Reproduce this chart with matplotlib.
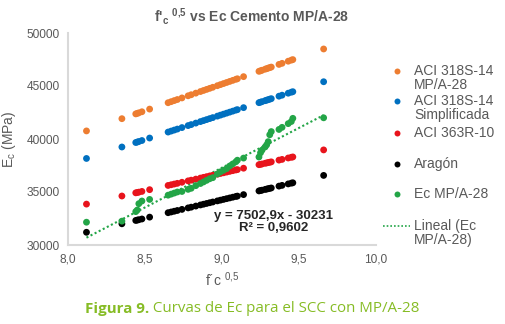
import matplotlib
matplotlib.use("Agg")
import matplotlib.pyplot as plt
from matplotlib.lines import Line2D

plt.rcParams['font.family'] = ['Liberation Sans', 'DejaVu Sans']
plt.rcParams['mathtext.fontset'] = 'custom'
plt.rcParams['mathtext.rm'] = 'Liberation Sans'
plt.rcParams['mathtext.bf'] = 'Liberation Sans:bold'

# ---- data ----
fc_sqrt = [8.12, 8.35, 8.44, 8.45, 8.46, 8.48, 8.53,
           8.65, 8.67, 8.69, 8.71, 8.74, 8.78, 8.80, 8.83, 8.86, 8.88, 8.90,
           8.92, 8.94, 8.97, 8.99, 9.01, 9.03, 9.05, 9.07, 9.09, 9.10,
           9.14, 9.24, 9.25, 9.26, 9.28, 9.29, 9.30, 9.31, 9.32,
           9.37, 9.39, 9.43, 9.45, 9.46, 9.66]

aci318_full = [40762, 41917, 42369, 42419, 42469, 42570, 42821,
               43423, 43523, 43624, 43724, 43875, 44076, 44176, 44327, 44477, 44578, 44678,
               44778, 44879, 45029, 45130, 45230, 45331, 45431, 45531, 45632, 45682,
               45883, 46385, 46435, 46485, 46586, 46636, 46686, 46736, 46786,
               47037, 47138, 47339, 47439, 47489, 48493]

aci318_simpl = [38164, 39245, 39668, 39715, 39762, 39856, 40091,
                40655, 40749, 40843, 40937, 41078, 41266, 41360, 41501, 41642, 41736, 41830,
                41924, 42018, 42159, 42253, 42347, 42441, 42535, 42629, 42723, 42770,
                42958, 43428, 43475, 43522, 43616, 43663, 43710, 43757, 43804,
                44039, 44133, 44321, 44415, 44462, 45402]

aci363 = [33858, 34622, 34921, 34954, 34987, 35054, 35220,
          35618, 35684, 35751, 35817, 35917, 36050, 36116, 36216, 36315, 36382, 36448,
          36514, 36581, 36680, 36747, 36813, 36880, 36946, 37012, 37079, 37112,
          37245, 37577, 37610, 37643, 37710, 37743, 37776, 37809, 37842,
          38008, 38075, 38208, 38274, 38307, 38971]

aragon = [31200, 32001, 32315, 32350, 32385, 32454, 32629,
          33047, 33116, 33186, 33256, 33360, 33500, 33569, 33674, 33778, 33848, 33918,
          33987, 34057, 34161, 34231, 34301, 34371, 34440, 34510, 34580, 34614,
          34754, 35102, 35137, 35172, 35242, 35276, 35311, 35346, 35381,
          35555, 35625, 35764, 35834, 35869, 36565]

ec_mpa28 = [32150, 32250, 33150, 33300, 33900, 34150, 34300,
            34700, 34800, 34900, 35000, 35050, 35250, 35350, 35600, 35800, 35950, 36100,
            36250, 36350, 36700, 36900, 37050, 37200, 37450, 37650, 37850, 38000,
            38200, 38300, 38700, 38950, 39250, 39450, 39750, 40400, 40700,
            40900, 41100, 41450, 41650, 41950, 42000]

trend_slope = 7502.9
trend_intercept = -30231

series_labels = ["ACI 318S-14\nMP/A-28", "ACI 318S-14\nSimplificada", "ACI 363R-10",
                 "Aragón", "Ec MP/A-28"]
trend_label = "Lineal (Ec\nMP/A-28)"
x_ticks = [8.0, 8.5, 9.0, 9.5, 10.0]
x_tick_labels = ["8,0", "8,5", "9,0", "9,5", "10,0"]
y_ticks = [30000, 35000, 40000, 45000, 50000]
y_tick_labels = ["30000", "35000", "40000", "45000", "50000"]

colors = ["#ED7D31", "#0070C0", "#E8141C", "#000000", "#23A547"]
gray = "#595959"
cap_color = "#86BC25"

W, H = 505, 324
fig = plt.figure(figsize=(W / 100, H / 100), dpi=100)
ax = fig.add_axes([68 / W, 1 - 245 / H, (376 - 68) / W, (245 - 33) / H])

all_series = [aci318_full, aci318_simpl, aci363, aragon, ec_mpa28]
for vals, c in zip(all_series, colors):
    ax.scatter(fc_sqrt, vals, s=24, color=c, edgecolors='none', zorder=3)

tx = [min(fc_sqrt), max(fc_sqrt)]
ty = [trend_slope * v + trend_intercept for v in tx]
ax.plot(tx, ty, color=colors[4], linestyle=(0, (1, 1.2)), linewidth=1.5, zorder=2)

ax.set_xlim(8.0, 10.0)
ax.set_ylim(30000, 50000)
ax.set_xticks(x_ticks)
ax.set_xticklabels(x_tick_labels)
ax.set_yticks(y_ticks)
ax.set_yticklabels(y_tick_labels)
ax.tick_params(length=0, labelsize=8.6, colors=gray, pad=6)
for s in ['top', 'right']:
    ax.spines[s].set_visible(False)
for s in ['left', 'bottom']:
    ax.spines[s].set_color('#D9D9D9')
    ax.spines[s].set_linewidth(1.5)

ax.set_xlabel(r"f´c $^{0{,}5}$", fontsize=10, color=gray, labelpad=4)
ax.set_ylabel(r"E$_{\mathregular{c}}$ (MPa)", fontsize=10, color=gray, labelpad=6)

ax.text((274 - 68) / 308, (245 - 222) / 212, "y = 7502,9x - 30231\nR² = 0,9602",
        transform=ax.transAxes, ha='center', va='center', fontsize=9.5,
        fontweight='bold', color='#262626', linespacing=1.05)

fig.text(252 / W, 1 - 16 / H, r"f'$_\mathbf{c}$ $^\mathbf{0{,}5}$ vs Ec Cemento MP/A-28",
         ha='center', va='center', fontsize=10, fontweight='bold', color=gray)

# legend (manual layout)
leg_y = [71, 101, 133, 164, 194]
for lab, c, yy in zip(series_labels, colors, leg_y):
    fig.add_artist(Line2D([397 / W], [1 - yy / H], marker='o', markersize=4.3,
                          color=c, markeredgewidth=0, linestyle='none'))
    fig.text(414 / W, 1 - (yy - 7) / H, lab, ha='left', va='top', fontsize=10,
             color=gray, linespacing=1.0)
fig.add_artist(Line2D([383 / W, 410 / W], [1 - 226 / H, 1 - 226 / H], color=colors[4],
                      linestyle=(0, (1, 1.2)), linewidth=1.2))
fig.text(414 / W, 1 - 219 / H, trend_label, ha='left', va='top', fontsize=10,
         color=gray, linespacing=1.0)

# caption: bold part + regular part, centred together
cap_y = 1 - 309 / H
t1 = fig.text(0, cap_y, "Figura 9.", ha='left', va='center', fontsize=10.9,
              fontweight='bold', color=cap_color, family='Open Sans')
t2 = fig.text(0, cap_y, " Curvas de Ec para el SCC con MP/A-28", ha='left',
              va='center', fontsize=10.9, color=cap_color, family='Open Sans')
r = fig.canvas.get_renderer()
w1 = t1.get_window_extent(r).width
w2 = t2.get_window_extent(r).width
x0 = 252 - (w1 + w2) / 2
t1.set_x(x0 / W)
t2.set_x((x0 + w1) / W)

fig.savefig("out.png", dpi=100)
